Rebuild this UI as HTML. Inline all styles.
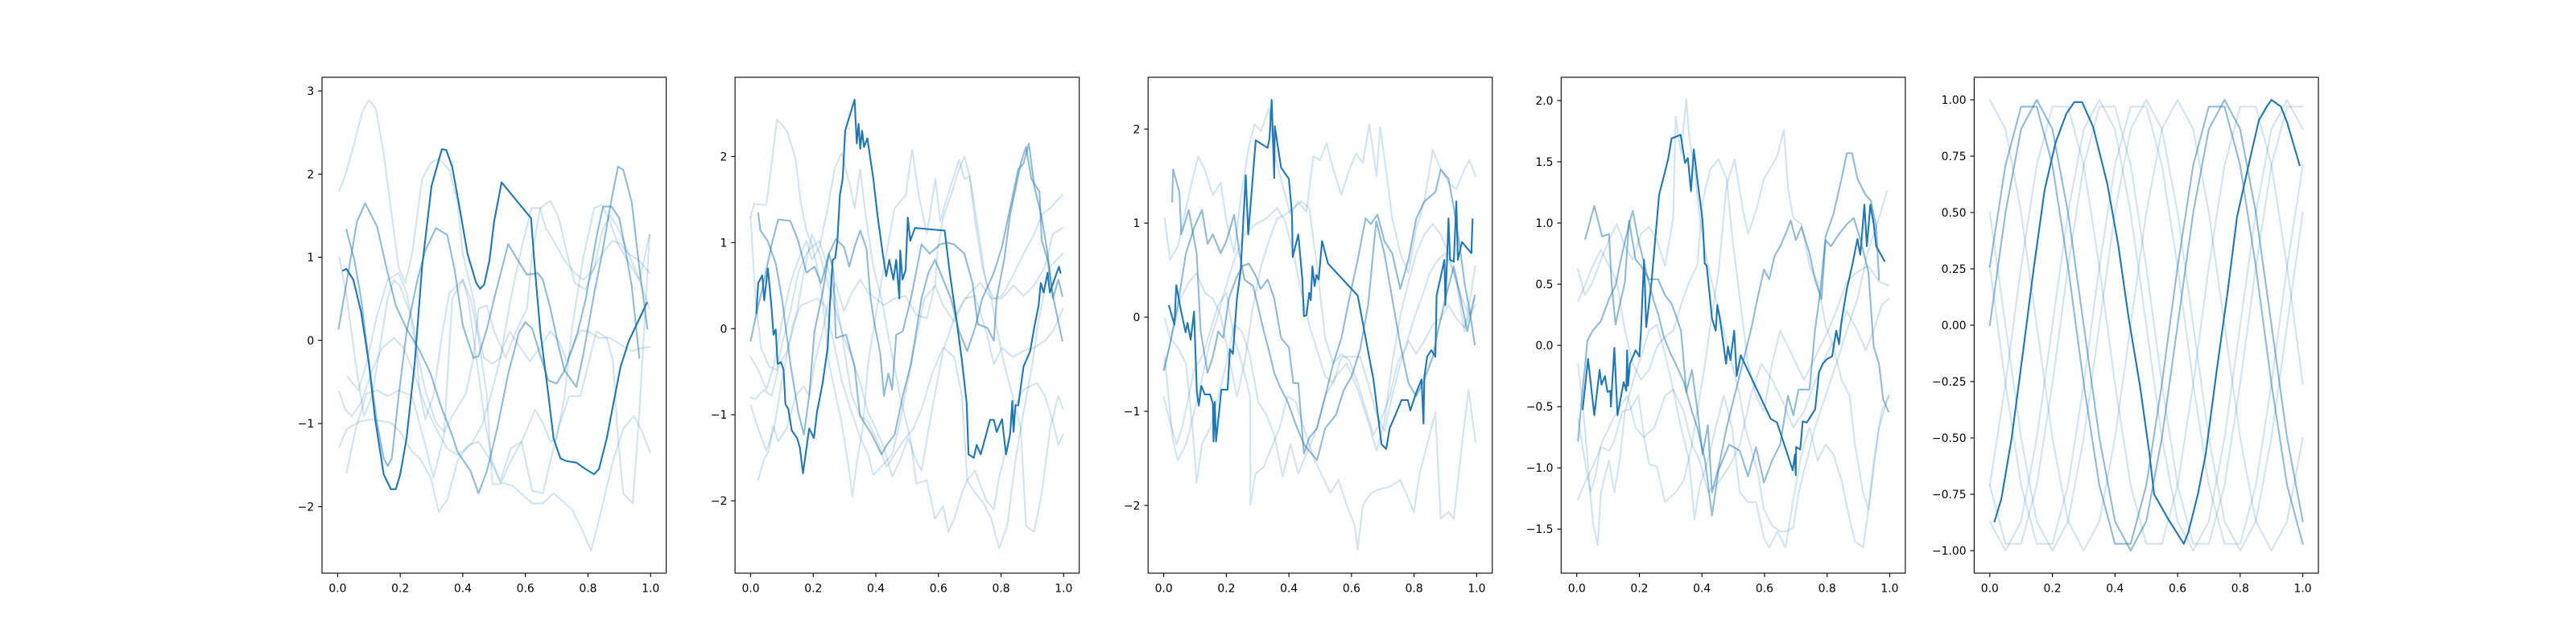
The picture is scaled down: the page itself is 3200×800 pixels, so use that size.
<!DOCTYPE html>
<html><head><meta charset="utf-8">
<style>
html,body{margin:0;padding:0;background:#fff;}
svg{display:block;}
text{font-family:"DejaVu Sans","Liberation Sans",sans-serif;font-size:13.9px;fill:#000;}
</style></head>
<body>
<svg id="fig" width="3200" height="800" viewBox="0 0 3200 800" xmlns="http://www.w3.org/2000/svg">
<rect width="3200" height="800" fill="#fff"/>
</svg>
<script>
// ---------- Panel 1 (smooth curves) ----------
const p1Main=[[.017,.84],[.028,.86],[.05,.73],[.075,.34],[.1,-.28],[.12,-.95],[.147,-1.61],[.17,-1.79],[.186,-1.79],[.2,-1.61],[.22,-1.18],[.246,-.28],[.27,.89],[.3,1.86],[.333,2.3],[.347,2.29],[.366,2.09],[.39,1.59],[.415,1.04],[.443,.69],[.455,.62],[.468,.67],[.485,.96],[.5,1.43],[.524,1.9],[.618,1.47],[.63,.88],[.648,.1],[.674,-.67],[.69,-1.18],[.712,-1.42],[.73,-1.45],[.763,-1.47],[.793,-1.55],[.819,-1.61],[.835,-1.55],[.86,-1.18],[.886,-.67],[.904,-.32],[.93,-.01],[.964,.26],[.988,.45]];
const p1Med1=[[.028,1.33],[.054,.96],[.075,.5],[.1,-.28],[.126,-.99],[.147,-1.42],[.16,-1.51],[.173,-1.42],[.195,-.67],[.22,.1],[.255,.73],[.28,1.08],[.314,1.35],[.35,1.27],[.374,.85],[.4,.18],[.434,-.21],[.45,-.19],[.477,.14],[.5,.5],[.545,1.16],[.57,1.0],[.605,.79],[.64,.81],[.656,.73],[.68,.38],[.707,-.09],[.725,-.36],[.763,-.56],[.785,-.17],[.82,.57],[.845,1.04],[.87,1.59],[.896,2.09],[.913,2.05],[.94,1.66],[.964,.88],[.99,.14]];
const p1Med2=[[.003,.14],[.03,.73],[.062,1.43],[.088,1.65],[.126,1.37],[.16,.81],[.186,.42],[.22,.14],[.263,-.13],[.297,-.4],[.33,-.79],[.366,-1.14],[.383,-1.34],[.425,-1.57],[.45,-1.84],[.477,-1.57],[.51,-1.06],[.545,-.4],[.58,.1],[.6,.22],[.622,.14],[.647,-.17],[.673,-.48],[.7,-.52],[.725,-.36],[.75,-.09],[.767,.1],[.793,.5],[.827,1.24],[.848,1.61],[.875,1.61],[.9,1.47],[.92,1.08],[.94,.65],[.964,-.21]];
const p1L1=[[.005,1.8],[.024,1.98],[.05,2.33],[.08,2.76],[.1,2.89],[.122,2.79],[.147,2.25],[.17,1.59],[.195,.88],[.216,.69],[.238,1.04],[.27,1.94],[.297,2.13],[.323,2.19],[.357,2.05],[.383,1.66],[.4,1.04],[.434,.5],[.45,.1],[.468,-.21],[.494,-.28],[.52,-.21],[.553,.5],[.588,1.12],[.62,1.59],[.647,1.59],[.665,1.35],[.69,1.2],[.725,.96],[.758,.81],[.784,.73],[.81,.81],[.845,1.04],[.879,1.2],[.904,1.16],[.93,1.04],[.964,.96],[.997,.81]];
const p1L2=[[.005,-.62],[.024,-.83],[.045,-.91],[.075,-.75],[.11,-.36],[.143,-.09],[.18,.03],[.21,-.09],[.245,-.4],[.28,-.79],[.314,-1.06],[.35,-1.3],[.383,-1.38],[.425,-1.26],[.46,-1.03],[.494,-.6],[.528,-.09],[.55,.11],[.57,-.01],[.614,-.25],[.647,-.09],[.68,.11],[.707,-.01],[.733,-.25],[.759,-.01],[.776,.12],[.8,.11],[.835,.03],[.87,.03],[.904,-.05],[.94,-.13],[.973,-.09],[.998,-.08]];
const p1L3=[[.005,1.0],[.03,.5],[.058,-.28],[.084,-.91],[.11,-.67],[.135,-.09],[.16,.5],[.18,.73],[.2,.65],[.23,.34],[.255,-.17],[.28,-.6],[.314,-.99],[.34,-1.1],[.366,-.91],[.41,-.64],[.434,-.21],[.45,.38],[.477,.42],[.5,.11],[.537,-.21],[.57,.11],[.605,.38],[.622,1.04],[.647,1.59],[.68,1.68],[.707,1.47],[.733,1.04],[.758,.69],[.793,.61],[.82,.88],[.845,1.31],[.87,1.51],[.896,1.35],[.93,1.04],[.964,.73],[.997,.38]];
const p1L4=[[.032,-.44],[.066,-.6],[.092,-.28],[.126,.3],[.16,.73],[.195,.81],[.22,.57],[.246,.11],[.263,-.64],[.28,-.95],[.306,-.67],[.332,.03],[.357,.57],[.4,.73],[.425,.5],[.45,.03],[.477,-.67],[.494,-1.73],[.52,-1.73],[.553,-1.45],[.588,-1.22],[.614,-.99],[.63,-.83],[.656,-.99],[.68,-1.22],[.7,-1.18],[.725,-.67],[.75,.18],[.785,1.0],[.82,1.59],[.845,1.63],[.87,1.43],[.896,1.16],[.92,1.0],[.964,.73],[.997,1.27]];
const p1L5=[[.005,-1.28],[.03,-1.06],[.075,-.97],[.11,-.95],[.17,-.99],[.2,-1.1],[.238,-1.34],[.263,-1.42],[.297,-1.65],[.323,-2.06],[.35,-1.92],[.383,-1.45],[.417,-1.26],[.45,-1.22],[.485,-1.42],[.52,-1.71],[.56,-1.75],[.622,-1.96],[.656,-1.96],[.69,-1.84],[.75,-2.04],[.785,-2.31],[.81,-2.53],[.835,-2.16],[.88,-1.45],[.913,-1.06],[.947,-.91],[.973,-1.1],[.998,-1.34]];
const p1L6=[[.028,-1.59],[.058,-1.06],[.092,-.64],[.126,-.6],[.16,-.67],[.195,-.6],[.238,-.67],[.28,-1.26],[.306,-1.65],[.34,-1.14],[.366,.5],[.4,.73],[.417,.5],[.45,-.4],[.468,-.91],[.494,-1.45],[.52,-1.69],[.553,-1.3],[.588,-1.22],[.622,-1.81],[.656,-1.84],[.68,-1.45],[.707,-1.03],[.74,-.67],[.776,-.67],[.827,.11],[.86,.03],[.88,-.25],[.896,-1.18],[.913,-1.84],[.943,-1.96],[.964,-.87],[.997,1.27]];

// ---------- Panel 2 (random walks) ----------
const p2Main=[[.018,.18],[.024,.53],[.037,.62],[.043,.33],[.055,.7],[.066,.27],[.073,-.07],[.08,-.01],[.086,-.41],[.097,-.39],[.105,-.48],[.111,-.88],[.12,-.93],[.131,-1.18],[.148,-1.27],[.157,-1.38],[.167,-1.68],[.187,-1.16],[.202,-1.27],[.212,-.97],[.23,-.63],[.246,-.22],[.253,.27],[.262,.8],[.27,.82],[.277,1.02],[.285,1.55],[.294,1.74],[.302,2.3],[.332,2.66],[.339,2.15],[.345,2.38],[.35,2.09],[.356,2.3],[.362,2.11],[.373,2.21],[.392,1.74],[.405,1.32],[.422,.87],[.433,.61],[.443,.8],[.456,.57],[.465,.8],[.475,.35],[.478,.91],[.485,.57],[.495,.68],[.502,1.29],[.51,1.02],[.525,1.17],[.62,1.14],[.636,.65],[.657,.12],[.675,-.37],[.69,-.86],[.696,-1.46],[.713,-1.5],[.722,-1.35],[.735,-1.46],[.765,-1.06],[.777,-1.06],[.786,-1.2],[.803,-1.05],[.816,-1.46],[.829,-1.23],[.836,-.84],[.84,-1.2],[.846,-.89],[.855,-.89],[.872,-.44],[.893,-.26],[.906,.01],[.92,.27],[.927,.53],[.936,.42],[.949,.65],[.956,.42],[.985,.72],[.99,.65]];
const p2Med1=[[.024,1.34],[.031,1.14],[.054,1.02],[.08,.76],[.1,.35],[.127,-.41],[.152,-.97],[.17,-1.23],[.187,-.78],[.204,-.03],[.23,.42],[.25,.87],[.272,1.04],[.298,.95],[.315,.72],[.332,.95],[.35,1.14],[.37,.93],[.383,.35],[.396,.05],[.414,-.29],[.426,-.78],[.44,-.52],[.452,-.71],[.465,-.07],[.486,-.03],[.512,.35],[.546,.98],[.572,.87],[.606,.98],[.627,1.0],[.65,.98],[.683,.87],[.709,.53],[.726,.05],[.756,.01],[.777,-.14],[.786,.35],[.81,.8],[.829,1.32],[.863,1.92],[.88,2.11],[.897,1.74],[.923,1.59],[.93,1.02],[.949,.8],[.966,.38],[.996,-.14]];
const p2Med2=[[0,-.14],[.015,.12],[.041,.53],[.067,.98],[.088,1.27],[.127,1.25],[.152,1.02],[.178,.65],[.204,.72],[.225,.53],[.25,.87],[.264,.68],[.272,-.11],[.305,-.07],[.332,-.44],[.349,-1.01],[.387,-1.23],[.418,-1.46],[.435,-1.35],[.46,-1.23],[.486,-.78],[.512,-.41],[.529,-.03],[.546,.35],[.568,.65],[.589,.8],[.615,.57],[.64,.35],[.666,-.03],[.692,-.26],[.717,.01],[.74,.35],[.777,.65],[.803,.95],[.829,1.4],[.855,1.85],[.872,1.92],[.889,2.15],[.906,1.66],[.93,1.29],[.949,.87],[.966,.35],[.983,.57],[.996,.38]];
const p2L1=[[0,1.3],[.011,1.45],[.033,1.44],[.05,1.44],[.067,1.92],[.084,2.43],[.1,2.37],[.118,2.28],[.144,1.96],[.16,1.47],[.178,1.14],[.196,.98],[.212,.72],[.23,.35],[.25,-.41],[.272,-.78],[.29,-1.08],[.31,-1.53],[.325,-1.95],[.34,-1.53],[.358,-1.16],[.375,-.41],[.4,.16],[.426,.72],[.46,1.4],[.495,1.55],[.516,2.08],[.537,1.55],[.563,1.1],[.59,1.74],[.606,1.25],[.63,1.55],[.666,1.96],[.683,1.74],[.7,1.77],[.717,1.25],[.74,.72],[.769,.35],[.786,.01],[.81,-.41],[.837,-.78],[.863,-1.16],[.88,-2.29],[.906,-2.36],[.93,-1.91],[.957,-1.16],[.983,-.78],[.998,-.93]];
const p2L2=[[0,-.89],[.024,-1.16],[.05,-1.42],[.075,-1.16],[.1,-.59],[.135,.05],[.16,.27],[.187,.31],[.212,.35],[.238,.27],[.264,-.14],[.29,-.59],[.315,-.89],[.35,-1.27],[.375,-1.46],[.392,-1.7],[.426,-1.57],[.452,-1.46],[.477,-1.08],[.503,-.59],[.529,-.11],[.555,.35],[.59,.5],[.615,.27],[.65,.08],[.675,.27],[.7,.42],[.734,.53],[.769,.35],[.803,.35],[.84,.5],[.872,.38],[.906,.5],[.94,.72],[.966,1.1],[.996,1.17]];
const p2L3=[[0,1.29],[.015,.35],[.033,-.22],[.058,-.44],[.084,-.48],[.1,-.18],[.127,.2],[.152,.65],[.178,.87],[.196,.95],[.22,1.02],[.246,.72],[.272,.35],[.29,-.03],[.306,-.41],[.323,-.78],[.35,-1.01],[.375,-1.08],[.41,-1.35],[.434,-1.61],[.46,-1.46],[.486,-1.31],[.52,-1.16],[.546,-.93],[.58,-.52],[.615,-.22],[.65,-.33],[.675,-.78],[.692,-1.76],[.717,-1.91],[.743,-2.02],[.769,-2.21],[.794,-2.55],[.82,-2.29],[.846,-1.53],[.872,-.97],[.9,-.41],[.923,.16],[.957,.72],[.996,.87]];
const p2L4=[[0,-.33],[.024,-.48],[.05,-.71],[.075,-.41],[.1,.08],[.127,.53],[.152,.8],[.178,1.02],[.196,.8],[.22,.95],[.246,1.4],[.268,1.85],[.29,2.04],[.315,1.7],[.332,1.4],[.35,1.85],[.366,1.36],[.392,.72],[.418,.35],[.443,-.14],[.477,-.78],[.512,-1.31],[.529,-1.8],[.563,-1.76],[.589,-2.21],[.615,-2.06],[.632,-2.36],[.65,-2.21],[.675,-1.91],[.692,-1.76],[.717,-1.65],[.752,-1.99],[.777,-2.1],[.794,-1.72],[.82,-1.35],[.846,-.89],[.872,-.71],[.915,-.63],[.94,-.78],[.966,-1.08],[.983,-1.35],[.998,-1.23]];
const p2L5=[[0,-.8],[.015,-.82],[.041,-.71],[.067,-.78],[.092,-.41],[.118,-.26],[.144,.12],[.17,.65],[.196,1.1],[.22,.87],[.246,.53],[.272,.2],[.298,-.11],[.323,-.33],[.35,-.63],[.375,-.97],[.4,-1.16],[.426,-1.38],[.452,-1.72],[.477,-1.53],[.503,-1.27],[.529,-1.53],[.546,-1.65],[.58,-.93],[.615,-.26],[.65,.12],[.683,.35],[.717,.38],[.752,-.03],[.777,-.41],[.803,-.22],[.837,-.33],[.872,-.26],[.906,-.22],[.94,-.14],[.966,-.03],[.998,.23]];
const p2L6=[[.024,-1.76],[.041,-1.53],[.058,-1.42],[.071,-1.12],[.088,-1.31],[.114,-1.16],[.144,-.78],[.17,-.67],[.187,-.78],[.204,-.41],[.23,-.03],[.246,.27],[.272,.53],[.298,.2],[.323,.42],[.35,.57],[.375,.42],[.4,.35],[.426,.27],[.46,.35],[.495,.38],[.529,.16],[.563,.12],[.59,.53],[.597,.91],[.615,1.29],[.64,1.55],[.666,1.85],[.683,2.0],[.7,1.77],[.726,1.17],[.752,.53],[.777,.35],[.803,.38],[.837,.61],[.872,.87],[.906,1.1],[.93,1.32],[.957,1.4],[.974,1.47],[.996,1.55]];

// ---------- Panel 3 (random walks) ----------
const p3Main=[[.017,.12],[.034,-.08],[.04,.34],[.054,.09],[.07,-.16],[.076,-.06],[.086,-.24],[.097,.06],[.106,-.8],[.112,-.94],[.12,-.73],[.131,-.82],[.148,-.82],[.157,-.92],[.159,-1.32],[.163,-.9],[.167,-1.32],[.184,-.77],[.204,-.77],[.212,-.34],[.221,-.39],[.234,.2],[.246,.51],[.262,1.51],[.27,.88],[.294,1.88],[.332,1.8],[.338,1.9],[.345,2.31],[.353,1.48],[.355,2.03],[.375,1.59],[.4,1.47],[.41,1.09],[.412,.64],[.43,.88],[.443,.4],[.448,.01],[.456,.02],[.465,.26],[.47,.18],[.475,.54],[.482,.33],[.488,.45],[.495,.4],[.506,.81],[.525,.57],[.62,.23],[.645,-.22],[.67,-.66],[.696,-1.35],[.711,-1.4],[.722,-1.18],[.74,-1.04],[.76,-.88],[.78,-.88],[.788,-.99],[.807,-.8],[.824,-.66],[.83,-1.13],[.833,-.63],[.842,-.42],[.855,-.35],[.868,-.42],[.872,.23],[.897,.61],[.9,.13],[.91,1.05],[.915,.61],[.927,.59],[.935,1.23],[.94,.61],[.953,.8],[.983,.68],[.987,1.04]];
const p3Med1=[[.027,1.23],[.03,1.57],[.05,1.33],[.056,.88],[.08,1.14],[.105,.68],[.118,-.15],[.14,-.59],[.157,-.42],[.174,-.15],[.19,-.22],[.208,.2],[.23,.4],[.25,.54],[.272,.57],[.294,.44],[.31,.3],[.332,.4],[.353,.2],[.375,-.22],[.4,-.32],[.414,-.7],[.43,-.7],[.448,-1.45],[.465,-1.28],[.49,-1.18],[.516,-.84],[.542,-.49],[.568,-.22],[.593,.2],[.62,.61],[.645,1.05],[.662,.99],[.683,1.09],[.705,.81],[.73,.68],[.756,.3],[.782,.61],[.807,1.05],[.833,1.23],[.868,1.33],[.885,1.57],[.91,1.47],[.927,1.16],[.945,.78],[.961,.37],[.978,.06],[.994,-.29]];
const p3Med2=[[0,-.56],[.02,-.29],[.045,.13],[.071,.68],[.097,.95],[.122,1.14],[.14,.78],[.157,.88],[.182,.68],[.2,.81],[.225,1.09],[.242,.68],[.258,.4],[.286,.33],[.3,.13],[.32,-.15],[.336,-.35],[.353,-.59],[.37,-.73],[.396,-.9],[.422,-1.14],[.448,-1.35],[.465,-1.42],[.49,-1.52],[.516,-1.18],[.55,-1.04],[.576,-.77],[.6,-.63],[.627,-.35],[.653,.13],[.679,1.02],[.705,.68],[.73,.2],[.756,-.29],[.782,-.7],[.807,-.84],[.833,-.66],[.86,-.42],[.876,-.15],[.9,.2],[.927,.54],[.953,.13],[.97,-.15],[.994,.23]];
const p3L1=[[.003,1.05],[.02,.61],[.045,.75],[.071,1.16],[.092,1.47],[.11,1.71],[.131,1.57],[.157,1.3],[.182,1.43],[.2,1.02],[.225,.68],[.25,1.36],[.272,1.81],[.29,2.05],[.311,1.98],[.336,2.22],[.353,1.74],[.38,1.4],[.405,1.09],[.43,1.23],[.456,1.12],[.478,1.71],[.5,1.67],[.52,1.85],[.542,1.57],[.568,1.3],[.593,1.57],[.615,1.74],[.636,1.64],[.657,2.05],[.68,1.5],[.692,2.02],[.709,1.6],[.73,1.05],[.756,.68],[.782,.47],[.807,.95],[.833,1.23],[.86,1.78],[.885,1.57],[.91,1.43],[.935,1.36],[.961,1.57],[.977,1.67],[.996,1.5]];
const p3L2=[[0,-.85],[.02,-1.11],[.041,-1.35],[.058,-1.18],[.08,-.84],[.097,-.56],[.122,-.42],[.148,-.15],[.174,.13],[.2,.26],[.225,-.22],[.25,-.49],[.276,-.84],[.277,-1.99],[.294,-1.66],[.32,-1.59],[.345,-1.38],[.37,-1.18],[.396,-.84],[.422,-.9],[.448,-1.18],[.482,-1.52],[.507,-1.69],[.533,-1.87],[.559,-1.73],[.585,-2.0],[.61,-2.21],[.62,-2.47],[.636,-2.0],[.662,-1.87],[.687,-1.83],[.722,-1.8],[.756,-1.73],[.782,-1.93],[.8,-2.07],[.816,-1.69],[.842,-1.35],[.868,-1.01],[.885,-2.14],[.91,-2.07],[.927,-2.14],[.953,-1.35],[.974,-.77],[.996,-1.32]];
const p3L3=[[.003,-.01],[.02,-.22],[.045,-.32],[.071,-.49],[.092,-1.18],[.105,-1.76],[.122,-1.35],[.148,-1.18],[.174,-.84],[.2,-.49],[.225,-.08],[.25,-.15],[.276,-.42],[.302,-.9],[.328,-1.04],[.353,-1.25],[.38,-1.69],[.405,-1.35],[.43,-1.66],[.456,-1.45],[.482,-1.25],[.516,-.84],[.55,-.63],[.585,-.49],[.62,-.77],[.653,-1.11],[.68,-1.42],[.705,-1.11],[.73,-.49],[.756,.02],[.782,.37],[.807,.68],[.833,.88],[.86,.99],[.885,.88],[.91,.68],[.935,.37],[.961,-.15],[.996,.54]];
const p3L4=[[.003,-.42],[.028,-1.28],[.045,-1.52],[.071,-1.35],[.097,-1.01],[.122,-.66],[.148,-.25],[.174,.02],[.19,.23],[.225,.61],[.258,.88],[.294,.99],[.328,1.05],[.362,1.16],[.388,1.02],[.414,.68],[.44,.26],[.465,-.08],[.49,-.35],[.516,-.63],[.542,-.7],[.568,-.42],[.593,-.42],[.627,-.42],[.653,-.7],[.68,-1.04],[.705,-1.21],[.73,-.84],[.756,-.49],[.782,-.25],[.807,-.39],[.833,-.25],[.86,-.08],[.885,-.01],[.91,.13],[.935,-.01],[.961,-.11],[.994,.2]];
const p3L5=[[.003,-.56],[.028,-.15],[.054,.2],[.08,.37],[.105,.47],[.131,.26],[.157,.2],[.182,.02],[.208,-.42],[.234,-.84],[.258,-.49],[.286,.13],[.311,.54],[.336,.81],[.362,1.05],[.388,1.09],[.414,1.16],[.44,1.23],[.465,1.16],[.49,.54],[.516,-.22],[.542,-.49],[.568,-.39],[.593,-.46],[.62,-.7],[.645,-.97],[.67,-1.25],[.696,-1.08],[.722,-.84],[.747,-.49],[.773,-.32],[.8,-.01],[.824,.2],[.85,.47],[.876,.61],[.9,.68],[.927,.47],[.953,.2],[.978,.02],[.996,.13]];

// ---------- Panel 4 (random walks) ----------
const p4Main=[[.019,-.52],[.036,-.11],[.056,-.57],[.073,-.2],[.079,-.32],[.09,-.25],[.098,-.38],[.107,-.37],[.109,-.5],[.12,-.02],[.13,-.57],[.15,-.3],[.158,-.37],[.161,-.04],[.164,-.33],[.17,-.15],[.188,-.04],[.2,-.09],[.205,.11],[.215,.7],[.222,.15],[.239,.52],[.263,1.23],[.292,1.52],[.303,1.69],[.332,1.72],[.346,1.49],[.355,1.53],[.365,1.26],[.374,1.6],[.385,1.36],[.402,1.02],[.409,.67],[.415,.65],[.426,.38],[.432,.22],[.444,.12],[.449,.33],[.457,.22],[.463,.12],[.477,-.15],[.483,-.01],[.491,-.12],[.503,.12],[.511,-.25],[.524,-.08],[.62,-.6],[.64,-.63],[.69,-1.02],[.697,-.89],[.7,-1.06],[.701,-.83],[.714,-.85],[.722,-.62],[.735,-.63],[.762,-.52],[.774,-.22],[.786,-.15],[.8,-.11],[.816,-.09],[.829,.12],[.838,.01],[.846,.2],[.863,.46],[.88,.65],[.897,.87],[.906,.74],[.91,.86],[.919,1.15],[.927,.81],[.938,1.15],[.949,.99],[.957,.81],[.983,.69]];
const p4Med1=[[.027,.87],[.056,1.14],[.081,.89],[.103,.91],[.111,.52],[.124,.17],[.137,.33],[.154,.52],[.167,1.02],[.188,.7],[.205,.65],[.231,.54],[.26,.54],[.282,.41],[.303,.34],[.316,.25],[.333,.12],[.35,-.38],[.368,-.2],[.385,-.52],[.402,-.89],[.419,-.65],[.432,-1.2],[.453,-1.0],[.479,-.67],[.504,-.41],[.53,-.15],[.556,.12],[.573,.33],[.598,.62],[.615,.54],[.632,.73],[.65,.81],[.667,.91],[.684,1.02],[.7,.86],[.718,.97],[.744,.75],[.761,.54],[.782,.38],[.795,.86],[.812,.81],[.838,.91],[.863,.99],[.885,1.04],[.906,.87],[.932,.6],[.949,-.01],[.966,-.15],[.979,-.44],[.996,-.54]];
const p4Med2=[[.004,-.78],[.017,-.41],[.034,.04],[.051,.12],[.077,.2],[.103,.38],[.124,.49],[.145,.75],[.167,.99],[.179,1.1],[.197,.86],[.222,.6],[.244,.38],[.261,.25],[.278,.07],[.3,-.07],[.316,-.15],[.342,-.3],[.368,-.54],[.385,-.67],[.41,-.94],[.432,-1.39],[.453,-1.02],[.487,-.81],[.521,-.86],[.547,-1.07],[.573,-.83],[.598,-1.12],[.624,-.94],[.65,-.81],[.675,-.41],[.692,-.57],[.709,-.36],[.744,-.36],[.761,.12],[.778,.44],[.795,.89],[.82,1.07],[.846,1.36],[.863,1.57],[.88,1.57],[.897,1.36],[.923,1.23],[.94,1.18],[.957,.97],[.966,.54]];
const p4L1=[[.004,.62],[.026,.41],[.051,.52],[.077,.7],[.103,.86],[.128,.99],[.154,.81],[.179,.7],[.205,.91],[.231,.97],[.256,.86],[.282,.65],[.308,1.04],[.316,1.87],[.333,1.57],[.35,2.01],[.359,1.71],[.376,1.44],[.393,1.04],[.419,.65],[.444,.38],[.47,.12],[.496,-.15],[.521,-.41],[.538,-.67],[.556,-.83],[.581,-1.07],[.598,-1.34],[.624,-1.47],[.65,-1.52],[.667,-1.52],[.692,-1.49],[.709,-1.2],[.735,-.94],[.761,-.67],[.795,-.41],[.829,-.15],[.863,.12],[.897,.38],[.932,.78],[.966,1.04],[.991,1.26]];
const p4L2=[[.004,-1.26],[.026,-1.12],[.051,-.99],[.077,-.83],[.103,-.86],[.12,-.78],[.145,-.54],[.171,-.52],[.197,-.41],[.214,-.73],[.231,-.97],[.256,-.99],[.282,-1.28],[.316,-1.2],[.342,-1.1],[.368,-.81],[.385,-.54],[.41,-.15],[.427,.17],[.453,.6],[.479,1.31],[.504,1.52],[.53,1.12],[.547,.91],[.573,1.1],[.598,1.36],[.624,1.47],[.641,1.55],[.662,1.76],[.675,1.28],[.692,1.04],[.718,.99],[.744,.65],[.769,.52],[.795,.17],[.82,-.01],[.846,-.28],[.872,-.41],[.889,-.81],[.915,-1.2],[.932,-1.34],[.949,-.94],[.974,-.54],[.998,-.41]];
const p4L3=[[.004,-.15],[.026,-.67],[.051,-1.44],[.067,-1.63],[.077,-1.2],[.103,-.94],[.12,-1.2],[.137,-.94],[.154,-.54],[.179,-.3],[.205,-.09],[.231,.12],[.256,.17],[.282,-.07],[.308,-.36],[.333,-.67],[.359,-.94],[.376,-1.42],[.393,-1.15],[.419,-.94],[.444,-.67],[.47,-.41],[.496,-.67],[.521,-1.2],[.547,-1.28],[.573,-1.28],[.598,-1.57],[.615,-1.65],[.641,-1.52],[.667,-1.65],[.692,-1.26],[.718,-.89],[.744,-.67],[.769,-.94],[.795,-.81],[.82,-.89],[.846,-1.1],[.872,-1.42],[.889,-1.6],[.915,-1.65],[.94,-1.2],[.966,-.67],[.996,-.41]];
const p4L4=[[.004,.36],[.026,.49],[.051,.65],[.077,.78],[.103,.65],[.128,.52],[.154,.12],[.179,-.15],[.205,-.28],[.231,-.2],[.256,-.01],[.282,.07],[.308,.12],[.333,.33],[.359,.52],[.385,.65],[.402,1.18],[.427,1.44],[.453,1.52],[.479,1.36],[.496,.91],[.521,.38],[.547,-.15],[.573,-.41],[.598,-.54],[.624,-.15],[.65,.12],[.675,-.01],[.701,-.15],[.726,-.28],[.752,-.15],[.778,-.01],[.803,.12],[.829,.28],[.863,.52],[.897,.6],[.932,.65],[.966,.52],[.996,.49]];
const p4L5=[[.004,-.6],[.026,-.94],[.043,-1.2],[.06,-1.07],[.077,-.81],[.103,-.67],[.128,-.54],[.162,-.41],[.188,-.67],[.214,-.75],[.248,-.67],[.282,-.41],[.308,-.36],[.342,-.54],[.368,-.81],[.393,-.94],[.419,-1.2],[.453,-1.12],[.487,-.99],[.521,-.81],[.556,-.41],[.59,-.15],[.624,-.28],[.658,-.46],[.692,-.67],[.726,-.54],[.761,-.3],[.795,-.09],[.829,.07],[.863,.28],[.897,.12],[.923,-.04],[.949,.12],[.974,.33],[.996,.38]];

// ---------- Panel 5 (sine waves) ----------
const p5X=[0,.05,.1,.15,.2,.25,.3,.35,.4,.45,.5,.55,.6,.65,.7,.75,.8,.85,.9,.95,1.0];
const p5MainX=[.015,.037,.07,.106,.14,.175,.21,.245,.27,.295,.33,.375,.41,.444,.48,.51,.525,.57,.62,.634,.665,.69,.725,.76,.79,.83,.86,.885,.9,.93,.95,.99];
const p5MainY=[-.87,-.77,-.5,-.12,.25,.6,.81,.94,.99,.99,.88,.63,.36,.03,-.27,-.57,-.75,-.86,-.97,-.92,-.75,-.57,-.2,.15,.48,.73,.91,.97,1.0,.97,.9,.71];
const p5MedA=[.26,.71,.97,.97,.71,.26,-.26,-.71,-.97,-.97,-.71,-.26,.26,.71,.97,.97,.71,.26,-.26,-.71,-.97];
const p5MedB=[0,.5,.87,1,.87,.5,0,-.5,-.87,-1,-.87,-.5,0,.5,.87,1,.87,.5,0,-.5,-.87];
const p5L1=[1,.87,.5,0,-.5,-.87,-1,-.87,-.5,0,.5,.87,1,.87,.5,0,-.5,-.87,-1,-.87,-.5];
const p5L2=[-.71,-.26,.26,.71,.97,.97,.71,.26,-.26,-.71,-.97,-.97,-.71,-.26,.26,.71,.97,.97,.71,.26,-.26];
const p5L3=[-.87,-1,-.87,-.5,0,.5,.87,1,.87,.5,0,-.5,-.87,-1,-.87,-.5,0,.5,.87,1,.87];
const p5L4=[-.71,-.97,-.97,-.71,-.26,.26,.71,.97,.97,.71,.26,-.26,-.71,-.97,-.97,-.71,-.26,.26,.71,.97,.97];
const p5L5=[.5,0,-.5,-.87,-1,-.87,-.5,0,.5,.87,1,.87,.5,0,-.5,-.87,-1,-.87,-.5,0,.5];
const p5L6=[.26,-.26,-.71,-.97,-.97,-.71,-.26,.26,.71,.97,.97,.71,.26,-.26,-.71,-.97,-.97,-.71,-.26,.26,.71];

// tick labels
const xTicks=[0,0.2,0.4,0.6,0.8,1.0];
const xTickLabels=["0.0","0.2","0.4","0.6","0.8","1.0"];
const p1YTicks=[-2,-1,0,1,2,3];
const p2YTicks=[-2,-1,0,1,2];
const p3YTicks=[-2,-1,0,1,2];
const p4YTicks=[-1.5,-1.0,-0.5,0,0.5,1.0,1.5,2.0];
const p4YLabels=["\u22121.5","\u22121.0","\u22120.5","0.0","0.5","1.0","1.5","2.0"];
const p5YTicks=[-1,-0.75,-0.5,-0.25,0,0.25,0.5,0.75,1];
const p5YLabels=["\u22121.00","\u22120.75","\u22120.50","\u22120.25","0.00","0.25","0.50","0.75","1.00"];

const NS="http://www.w3.org/2000/svg";
const svg=document.getElementById('fig');
const TOP=96,BOT=712,W=427.6;
const LEFTS=[400,913.1,1426.2,1939.3,2452.4];
const XLIM=[-0.05,1.05];
const YLIMS=[[-2.80,3.165],[-2.84,2.92],[-2.72,2.55],[-1.86,2.19],[-1.1,1.1]];
const COLOR="#1f77b4";

function mk(tag,attrs){const e=document.createElementNS(NS,tag);for(const k in attrs)e.setAttribute(k,attrs[k]);return e;}
function fmtInt(v){return v<0?"\u2212"+Math.abs(v):String(v);}

function panel(i,series,yTicks,yLabels){
  const L=LEFTS[i],yl=YLIMS[i];
  const sx=x=>L+(x-XLIM[0])/(XLIM[1]-XLIM[0])*W;
  const sy=y=>BOT-(y-yl[0])/(yl[1]-yl[0])*(BOT-TOP);
  const g=mk('g',{});
  
  
  svg.appendChild(g);
  const clipId='clip'+i;
  const cp=mk('clipPath',{id:clipId});
  cp.appendChild(mk('rect',{x:L,y:TOP,width:W,height:BOT-TOP}));
  g.appendChild(cp);
  const lg=mk('g',{'clip-path':'url(#'+clipId+')'});
  g.appendChild(lg);
  series.forEach((s,k)=>{
    const d=s.pts.map((p,j)=>(j?'L':'M')+sx(p[0]).toFixed(1)+' '+sy(p[1]).toFixed(1)).join(' ');
    const path=mk('path',{d:d,fill:'none',stroke:COLOR,'stroke-width':2.1,'stroke-opacity':s.a,'stroke-linejoin':'round','stroke-linecap':'square'});
    
    
    lg.appendChild(path);
  });
  const frame=mk('rect',{x:L,y:TOP,width:W,height:BOT-TOP,fill:'none',stroke:'#000','stroke-width':1.1});
  
  
  g.appendChild(frame);
  // x ticks
  xTicks.forEach((t,k)=>{
    const x=sx(t);
    const tk=mk('line',{x1:x,y1:BOT,x2:x,y2:BOT+4.9,stroke:'#000','stroke-width':1.1});
    
    
    g.appendChild(tk);
    const tx=mk('text',{x:x,y:BOT+23.5,'text-anchor':'middle'});
    tx.textContent=xTickLabels[k];
    
    
    g.appendChild(tx);
  });
  yTicks.forEach((t,k)=>{
    const y=sy(t);
    const tk=mk('line',{x1:L-4.9,y1:y,x2:L,y2:y,stroke:'#000','stroke-width':1.1});
    
    
    g.appendChild(tk);
    const tx=mk('text',{x:L-9.8,y:y+5,'text-anchor':'end'});
    tx.textContent=yLabels?yLabels[k]:fmtInt(t);
    
    
    g.appendChild(tx);
  });
}
function zip(xs,ys){return ys.map((y,j)=>[xs[j],y]);}
const LA=0.2,MA=0.5;
panel(0,[
 {name:'series-light-1',a:LA,pts:p1L1},{name:'series-light-2',a:LA,pts:p1L2},{name:'series-light-3',a:LA,pts:p1L3},
 {name:'series-light-4',a:LA,pts:p1L4},{name:'series-light-5',a:LA,pts:p1L5},{name:'series-light-6',a:LA,pts:p1L6},
 {name:'series-medium-1',a:MA,pts:p1Med1},{name:'series-medium-2',a:MA,pts:p1Med2},
 {name:'series-main',a:1,pts:p1Main}],p1YTicks);
panel(1,[
 {name:'series-light-1',a:LA,pts:p2L1},{name:'series-light-2',a:LA,pts:p2L2},{name:'series-light-3',a:LA,pts:p2L3},
 {name:'series-light-4',a:LA,pts:p2L4},{name:'series-light-5',a:LA,pts:p2L5},{name:'series-light-6',a:LA,pts:p2L6},
 {name:'series-medium-1',a:MA,pts:p2Med1},{name:'series-medium-2',a:MA,pts:p2Med2},
 {name:'series-main',a:1,pts:p2Main}],p2YTicks);
panel(2,[
 {name:'series-light-1',a:LA,pts:p3L1},{name:'series-light-2',a:LA,pts:p3L2},{name:'series-light-3',a:LA,pts:p3L3},
 {name:'series-light-4',a:LA,pts:p3L4},{name:'series-light-5',a:LA,pts:p3L5},
 {name:'series-medium-1',a:MA,pts:p3Med1},{name:'series-medium-2',a:MA,pts:p3Med2},
 {name:'series-main',a:1,pts:p3Main}],p3YTicks);
panel(3,[
 {name:'series-light-1',a:LA,pts:p4L1},{name:'series-light-2',a:LA,pts:p4L2},{name:'series-light-3',a:LA,pts:p4L3},
 {name:'series-light-4',a:LA,pts:p4L4},{name:'series-light-5',a:LA,pts:p4L5},
 {name:'series-medium-1',a:MA,pts:p4Med1},{name:'series-medium-2',a:MA,pts:p4Med2},
 {name:'series-main',a:1,pts:p4Main}],p4YTicks,p4YLabels);
panel(4,[
 {name:'series-light-1',a:LA,pts:zip(p5X,p5L1)},{name:'series-light-2',a:LA,pts:zip(p5X,p5L2)},{name:'series-light-3',a:LA,pts:zip(p5X,p5L3)},
 {name:'series-light-4',a:LA,pts:zip(p5X,p5L4)},{name:'series-light-5',a:LA,pts:zip(p5X,p5L5)},{name:'series-light-6',a:LA,pts:zip(p5X,p5L6)},
 {name:'series-medium-1',a:MA,pts:zip(p5X,p5MedA)},{name:'series-medium-2',a:MA,pts:zip(p5X,p5MedB)},
 {name:'series-main',a:1,pts:zip(p5MainX,p5MainY)}],p5YTicks,p5YLabels);
</script>
</body></html>
